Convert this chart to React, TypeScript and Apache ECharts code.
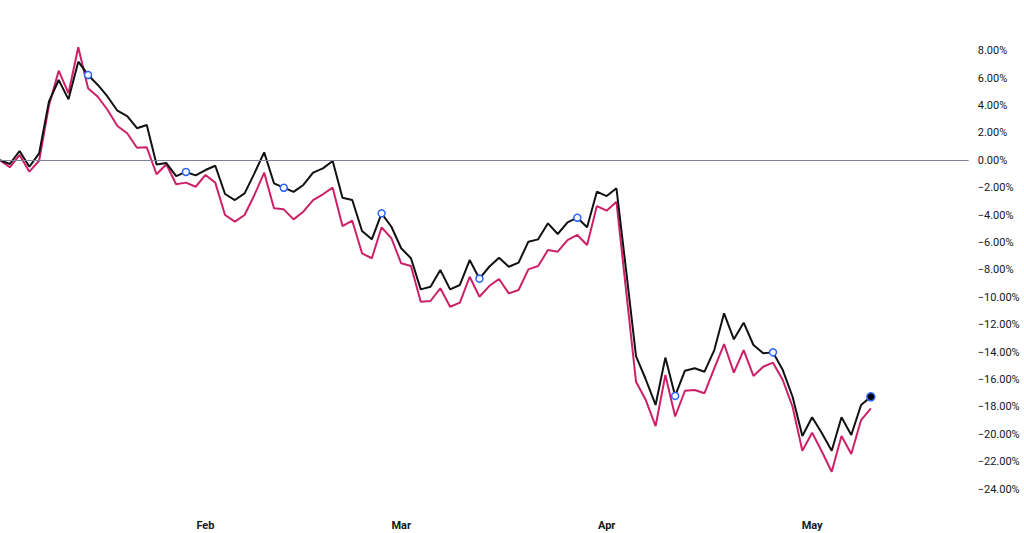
import React, { useEffect, useRef } from "react";
import * as echarts from "echarts";

// Trading-day categories (Jan 3 2025 base point, then data through May 9, then empty right margin)
const dates: string[] = [
  "2025-01-03",
  "2025-01-06", "2025-01-07", "2025-01-08", "2025-01-09", "2025-01-10",
  "2025-01-13", "2025-01-14", "2025-01-15", "2025-01-16", "2025-01-17",
  "2025-01-20", "2025-01-21", "2025-01-22", "2025-01-23", "2025-01-24",
  "2025-01-27", "2025-01-28", "2025-01-29", "2025-01-30", "2025-01-31",
  "2025-02-03", "2025-02-04", "2025-02-05", "2025-02-06", "2025-02-07",
  "2025-02-10", "2025-02-11", "2025-02-12", "2025-02-13", "2025-02-14",
  "2025-02-17", "2025-02-18", "2025-02-19", "2025-02-20", "2025-02-21",
  "2025-02-24", "2025-02-25", "2025-02-26", "2025-02-27", "2025-02-28",
  "2025-03-03", "2025-03-04", "2025-03-05", "2025-03-06", "2025-03-07",
  "2025-03-10", "2025-03-11", "2025-03-12", "2025-03-13", "2025-03-14",
  "2025-03-17", "2025-03-18", "2025-03-19", "2025-03-20", "2025-03-21",
  "2025-03-24", "2025-03-25", "2025-03-26", "2025-03-27", "2025-03-28",
  "2025-03-31",
  "2025-04-01", "2025-04-02", "2025-04-03", "2025-04-04",
  "2025-04-07", "2025-04-08", "2025-04-09", "2025-04-10", "2025-04-11",
  "2025-04-14", "2025-04-15", "2025-04-16", "2025-04-17",
  "2025-04-21", "2025-04-22", "2025-04-23", "2025-04-24", "2025-04-25",
  "2025-04-28", "2025-04-29", "2025-04-30",
  "2025-05-01", "2025-05-02",
  "2025-05-05", "2025-05-06", "2025-05-07", "2025-05-08", "2025-05-09",
  "2025-05-12", "2025-05-13", "2025-05-14", "2025-05-15", "2025-05-16",
  "2025-05-19", "2025-05-20", "2025-05-21", "2025-05-22", "2025-05-23",
];

// Main symbol (black), % change
const blackValues: number[] = [
  0,
  -0.27, 0.68, -0.47, 0.51, 4.28, 5.86, 4.45, 7.2, 6.23, 5.5,
  4.64, 3.62, 3.23, 2.34, 2.58, -0.3, -0.2, -1.15, -0.85, -1.1,
  -0.71, -0.4, -2.46, -2.9, -2.41, -0.95, 0.58, -1.68, -2.0, -2.3,
  -1.8, -0.9, -0.59, -0.05, -2.73, -2.9, -5.16, -5.77, -3.87, -4.85,
  -6.42, -7.15, -9.42, -9.23, -8.0, -9.42, -9.1, -7.28, -8.64, -7.77,
  -7.11, -7.77, -7.47, -5.94, -5.77, -4.6, -5.38, -4.53, -4.19, -4.89,
  -2.29, -2.61, -2.04, -8.1, -14.3, -16.0, -17.86, -14.4, -17.2, -15.36,
  -15.18, -15.43, -13.85, -11.17, -13.07, -11.85, -13.48, -14.09, -14.02, -15.31,
  -17.26, -20.12, -18.76, -19.93, -21.2, -18.76, -20.05, -17.86, -17.26,
];

// Comparison symbol (magenta), % change
const pinkValues: number[] = [
  0,
  -0.51, 0.39, -0.83, -0.03, 4.0, 6.54, 4.89, 8.25, 5.26, 4.64,
  3.67, 2.5, 1.97, 0.92, 0.95, -1.02, -0.29, -1.75, -1.63, -1.93,
  -1.07, -1.63, -3.99, -4.48, -3.99, -2.53, -0.9, -3.5, -3.58, -4.31,
  -3.75, -2.9, -2.48, -2.0, -4.8, -4.41, -6.79, -7.15, -4.89, -5.69,
  -7.52, -7.72, -10.32, -10.27, -9.34, -10.69, -10.39, -8.5, -9.96, -9.18,
  -8.66, -9.71, -9.47, -7.96, -7.72, -6.55, -6.67, -5.82, -5.45, -6.18,
  -3.34, -3.68, -3.02, -9.6, -16.16, -17.5, -19.4, -15.67, -18.7, -16.82,
  -16.77, -17.0, -15.18, -13.41, -15.5, -13.85, -15.74, -15.07, -14.77, -16.04,
  -17.99, -21.2, -19.88, -21.27, -22.73, -20.12, -21.44, -18.96, -18.1,
];

const markerIndices: number[] = [9, 19, 29, 39, 49, 59, 69, 79];
const monthNames: string[] = ["Jan", "Feb", "Mar", "Apr", "May", "Jun", "Jul", "Aug", "Sep", "Oct", "Nov", "Dec"];
const yMin = -26;
const yMax = 10;
const yStep = 2;
const labelMin = -24;
const labelMax = 8;

const isMonthStart = (i: number) =>
  i > 0 && dates[i].slice(5, 7) !== dates[i - 1].slice(5, 7);

export default function App() {
  const ref = useRef<HTMLDivElement>(null);

  useEffect(() => {
    if (!ref.current) return;
    const chart = echarts.init(ref.current, undefined, { renderer: "svg" });
    const lastIdx = blackValues.length - 1;

    const blackData = blackValues.map((v, i) => {
      if (markerIndices.includes(i)) {
        return {
          value: v,
          symbol: "circle",
          symbolSize: 7,
          itemStyle: { color: "#ffffff", borderColor: "#2962ff", borderWidth: 1.5 },
        };
      }
      if (i === lastIdx) {
        return {
          value: v,
          symbol: "circle",
          symbolSize: 8,
          itemStyle: { color: "#000000", borderColor: "#2962ff", borderWidth: 1.5 },
        };
      }
      return { value: v, symbol: "none" };
    });

    chart.setOption({
      animation: false,
      backgroundColor: "#ffffff",
      grid: { left: -2.5, right: 55.3, top: 23.3, bottom: 16.5, containLabel: false },
      xAxis: {
        type: "category",
        data: dates,
        boundaryGap: false,
        axisLine: { show: false },
        axisTick: { show: false },
        splitLine: { show: false },
        axisLabel: {
          interval: (index: number) => isMonthStart(index),
          formatter: (value: string) => monthNames[parseInt(value.slice(5, 7), 10) - 1],
          color: "#131722",
          fontSize: 11,
          fontWeight: "bold",
          fontFamily: "Roboto, 'DejaVu Sans', sans-serif",
          margin: 3,
        },
      },
      yAxis: {
        type: "value",
        position: "right",
        min: yMin,
        max: yMax,
        interval: yStep,
        axisLine: { show: false },
        axisTick: { show: false },
        splitLine: { show: false },
        axisLabel: {
          margin: 9,
          color: "#131722",
          fontSize: 11,
          fontFamily: "Roboto, 'DejaVu Sans', sans-serif",
          formatter: (v: number) => {
            if (v < labelMin || v > labelMax) return "";
            const s = Math.abs(v).toFixed(2) + "%";
            return v < 0 ? "\u2212" + s : s;
          },
        },
      },
      series: [
        {
          name: "Compare",
          type: "line",
          data: pinkValues,
          symbol: "none",
          lineStyle: { color: "#cc2068", width: 2 },
          itemStyle: { color: "#cc2068" },
          z: 2,
          markLine: {
            silent: true,
            symbol: ["none", "none"],
            label: { show: false },
            lineStyle: { color: "#7e7f99", width: 1, type: "solid" },
            data: [{ yAxis: 0 }],
          },
        },
        {
          name: "Main",
          type: "line",
          data: blackData,
          symbol: "none",
          showSymbol: true,
          showAllSymbol: true,
          lineStyle: { color: "#111111", width: 2 },
          itemStyle: { color: "#111111" },
          z: 3,
        },
      ],
    });

    return () => {
      chart.dispose();
    };
  }, []);

  return (
    <div
      ref={ref}
      style={{ position: "fixed", left: 0, top: 0, width: 1024, height: 533, background: "#ffffff" }}
    />
  );
}
